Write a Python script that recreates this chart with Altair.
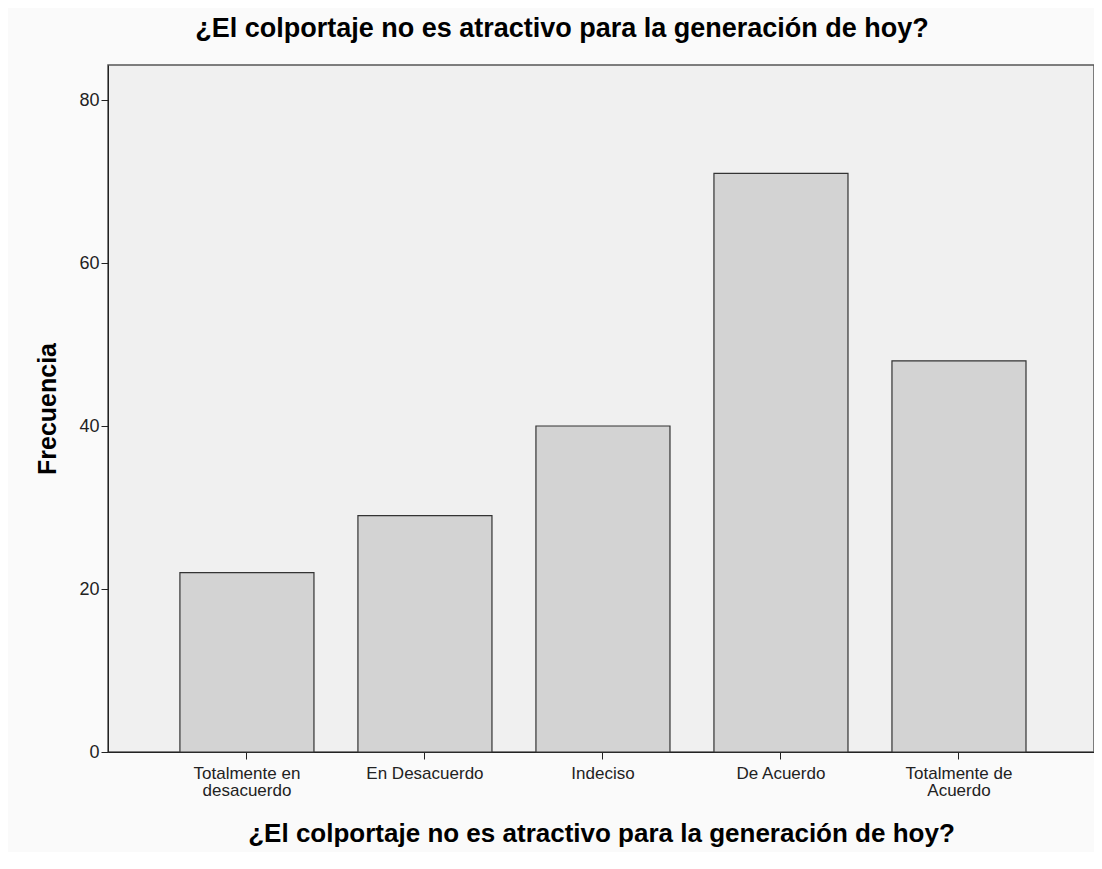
import altair as alt
import pandas as pd

categories = ["Totalmente en desacuerdo", "En Desacuerdo", "Indeciso", "De Acuerdo", "Totalmente de Acuerdo"]
frequencies = [22, 29, 40, 71, 48]
y_ticks = [0, 20, 40, 60, 80]
title_text = "¿El colportaje no es atractivo para la generación de hoy?"

df = pd.DataFrame({"cat": categories, "freq": frequencies})

label_expr = (
    "datum.label == 'Totalmente en desacuerdo' ? ['Totalmente en', 'desacuerdo'] : "
    "datum.label == 'Totalmente de Acuerdo' ? ['Totalmente de', 'Acuerdo'] : datum.label"
)

FONT = "Liberation Sans"

chart = alt.Chart(df).mark_bar(
    fill="#d3d3d3", stroke="#333333", strokeWidth=1.2
).encode(
    x=alt.X(
        "cat:N",
        sort=categories,
        scale=alt.Scale(paddingInner=0.247, paddingOuter=0.393, align=0.514),
        axis=alt.Axis(
            title=title_text,
            labelAngle=0,
            labelExpr=label_expr,
            labelFont=FONT,
            labelFontSize=17,
            labelColor="#222222",
            labelPadding=6,
            labelLineHeight=17,
            tickSize=7,
            tickColor="#222222",
            domainColor="#222222",
            titleFont=FONT,
            titleFontSize=26,
            titleFontWeight="bold",
            titleColor="#000000",
            titlePadding=22,
            grid=False,
        ),
    ),
    y=alt.Y(
        "freq:Q",
        scale=alt.Scale(domain=[0, 84.3], nice=False, zero=True),
        axis=alt.Axis(
            title="Frecuencia",
            values=y_ticks,
            labelFont=FONT,
            labelFontSize=18,
            labelColor="#222222",
            labelPadding=2,
            tickSize=7,
            tickColor="#222222",
            domainColor="#222222",
            titleFont=FONT,
            titleFontSize=25,
            titleFontWeight="bold",
            titleColor="#000000",
            titlePadding=18,
            grid=False,
        ),
    ),
).properties(
    width=986,
    height=687,
    title=alt.TitleParams(
        text=title_text,
        font=FONT,
        fontSize=27,
        fontWeight="bold",
        color="#000000",
        anchor="middle",
        dx=-39,
        offset=22,
    ),
    background="#fafafa",
    padding={"left": 100, "top": 57, "right": 0, "bottom": 100},
    autosize=alt.AutoSizeParams(type="none"),
).configure_view(
    fill="#f0f0f0",
    stroke="#555555",
    strokeWidth=1.5,
)

chart.save("out.html", embed_options={"renderer": "svg", "actions": False})
